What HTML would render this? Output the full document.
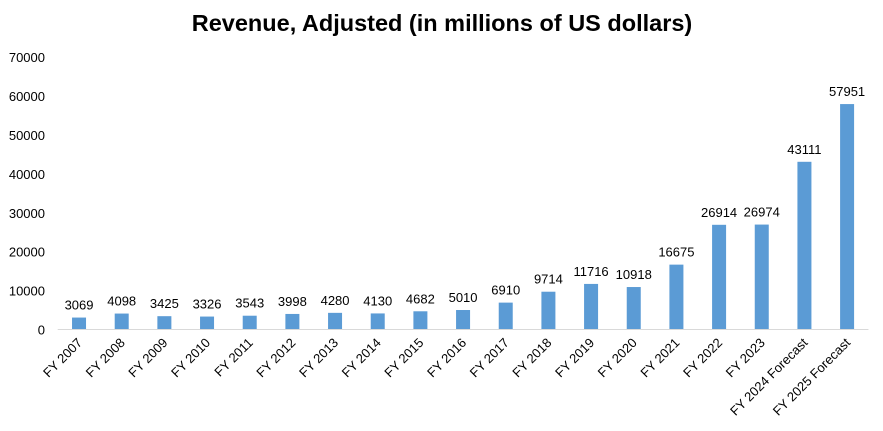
<!DOCTYPE html>
<html><head><meta charset="utf-8"><style>
body{margin:0;background:#fff;}
svg{display:block;font-family:"Liberation Sans",Arial,sans-serif;}
</style></head><body>
<svg id="chart" width="883" height="431">
<text x="442" y="31" text-anchor="middle" font-size="23.5" font-weight="bold" fill="#000">Revenue, Adjusted (in millions of US dollars)</text>
<g id="yaxis"></g><g id="bars"></g><g id="xaxis"></g>
</svg>
<script>
const categories=["FY 2007","FY 2008","FY 2009","FY 2010","FY 2011","FY 2012","FY 2013","FY 2014","FY 2015","FY 2016","FY 2017","FY 2018","FY 2019","FY 2020","FY 2021","FY 2022","FY 2023","FY 2024 Forecast","FY 2025 Forecast"];
const values=[3069,4098,3425,3326,3543,3998,4280,4130,4682,5010,6910,9714,11716,10918,16675,26914,26974,43111,57951];
const yTicks=[0,10000,20000,30000,40000,50000,60000,70000];
const NS="http://www.w3.org/2000/svg";
const x0=57.7,band=42.67,y0=329.5,pxPer=38.9/10000,bw=14;
const yScale=v=>y0-v*pxPer;
const xScale=i=>x0+band*(i+0.5);
function mk(tag,attrs,parent,text){const e=document.createElementNS(NS,tag);for(const k in attrs)e.setAttribute(k,attrs[k]);if(text!==undefined)e.textContent=text;parent.appendChild(e);return e;}
const ya=document.getElementById('yaxis'),bg=document.getElementById('bars'),xa=document.getElementById('xaxis');
yTicks.forEach(t=>{const el=mk('text',{x:45,y:yScale(t)+5,'text-anchor':'end','font-size':13,fill:'#000'},ya,String(t));

});
const axl=mk('line',{x1:x0,x2:x0+band*categories.length,y1:y0,y2:y0,stroke:'#d9d9d9','stroke-width':1},xa);


values.forEach((v,i)=>{const cx=xScale(i),y=yScale(v);
const r=mk('rect',{x:cx-bw/2,y:y,width:bw,height:y0-y,fill:'#5b9bd5'},bg);


const l=mk('text',{x:cx,y:y-8,'text-anchor':'middle','font-size':13,fill:'#000'},bg,String(v));


const c=mk('text',{x:0,y:0,'text-anchor':'end','font-size':13,fill:'#000',transform:`translate(${cx+4},${y0+14}) rotate(-45)`},xa,categories[i]);

});
</script>
</body></html>
